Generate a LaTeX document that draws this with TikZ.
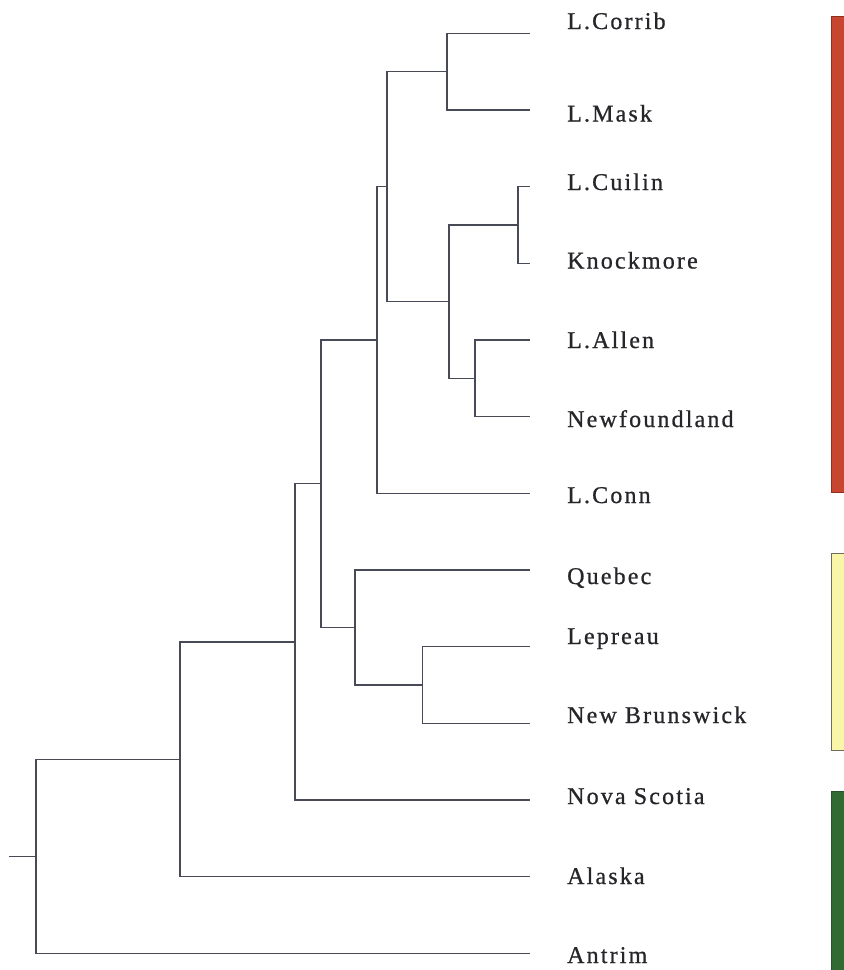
\documentclass[tikz,border=0pt]{standalone}
\usepackage{fontspec}
\setmainfont{Liberation Serif}
\newfontfamily\labfont[LetterSpace=9,FakeBold=0.8]{Liberation Serif}
\definecolor{treec}{RGB}{72,74,88}
\definecolor{txtc}{RGB}{38,38,42}
\definecolor{redf}{RGB}{200,70,48}
\definecolor{redb}{RGB}{140,48,34}
\definecolor{yelf}{RGB}{250,246,168}
\definecolor{yelb}{RGB}{110,108,96}
\definecolor{grnf}{RGB}{50,106,52}
\definecolor{grnb}{RGB}{40,80,42}
\tikzset{
  tree/.style={draw=treec, line width=1.3pt},
  lab/.style={anchor=base west, inner sep=0pt, text=txtc, font=\labfont\fontsize{24}{28}\selectfont},
}
\begin{document}
\begin{tikzpicture}[x=1pt,y=-1pt]
\useasboundingbox (0,0) rectangle (844,970);
% colour bars
\fill[redf, draw=redb, line width=0.8pt] (831,16) rectangle (850,492);
\fill[yelf, draw=yelb, line width=0.8pt] (831,553) rectangle (850,750);
\fill[grnf, draw=grnb, line width=0.8pt] (831,791) rectangle (850,975);
% leaf tips
\coordinate (t1) at (530,33.3);
\coordinate (t2) at (530,110);
\coordinate (t3) at (530,186.7);
\coordinate (t4) at (530,263.3);
\coordinate (t5) at (530,340);
\coordinate (t6) at (530,416.7);
\coordinate (t7) at (530,493.3);
\coordinate (t8) at (530,570);
\coordinate (t9) at (530,646.7);
\coordinate (t10) at (530,723.3);
\coordinate (t11) at (530,800);
\coordinate (t12) at (530,876.7);
\coordinate (t13) at (530,953.3);
% internal nodes
\coordinate (n6) at (447,71.7);
\coordinate (n8) at (518,225);
\coordinate (n10) at (475,378.3);
\coordinate (n7) at (449,301.7);
\coordinate (n5) at (387,186.7);
\coordinate (n4) at (377,340);
\coordinate (n11) at (422.5,685);
\coordinate (n9) at (355,627.5);
\coordinate (n3) at (321,483.75);
\coordinate (n2) at (295,641.9);
\coordinate (n1) at (180,759.3);
\coordinate (r) at (36,856.3);
\coordinate (stub) at (9,856.3);
% branches
\draw[tree] (n6) |- (t1);
\draw[tree] (n6) |- (t2);
\draw[tree] (n8) |- (t3);
\draw[tree] (n8) |- (t4);
\draw[tree] (n10) |- (t5);
\draw[tree] (n10) |- (t6);
\draw[tree] (n7) |- (n8);
\draw[tree] (n7) |- (n10);
\draw[tree] (n5) |- (n6);
\draw[tree] (n5) |- (n7);
\draw[tree] (n4) |- (n5);
\draw[tree] (n4) |- (t7);
\draw[tree] (n11) |- (t9);
\draw[tree] (n11) |- (t10);
\draw[tree] (n9) |- (t8);
\draw[tree] (n9) |- (n11);
\draw[tree] (n3) |- (n4);
\draw[tree] (n3) |- (n9);
\draw[tree] (n2) |- (n3);
\draw[tree] (n2) |- (t11);
\draw[tree] (n1) |- (n2);
\draw[tree] (n1) |- (t12);
\draw[tree] (r) |- (n1);
\draw[tree] (r) |- (t13);
\draw[tree] (stub) -- (r);
% labels
\node[lab] (l1) at (567,29) {L.Corrib};
\node[lab] (l2) at (567,121.5) {L.Mask};
\node[lab] (l3) at (567,190) {L.Cuilin};
\node[lab] (l4) at (567,268.5) {Knockmore};
\node[lab] (l5) at (567,348) {L.Allen};
\node[lab] (l6) at (567,427) {Newfoundland};
\node[lab] (l7) at (567,503) {L.Conn};
\node[lab] (l8) at (567,584) {Quebec};
\node[lab] (l9) at (567,644) {Lepreau};
\node[lab] (l10) at (567,723) {New Brunswick};
\node[lab] (l11) at (567,804) {Nova Scotia};
\node[lab] (l12) at (567,884) {Alaska};
\node[lab] (l13) at (567,963) {Antrim};
\end{tikzpicture}
\end{document}
